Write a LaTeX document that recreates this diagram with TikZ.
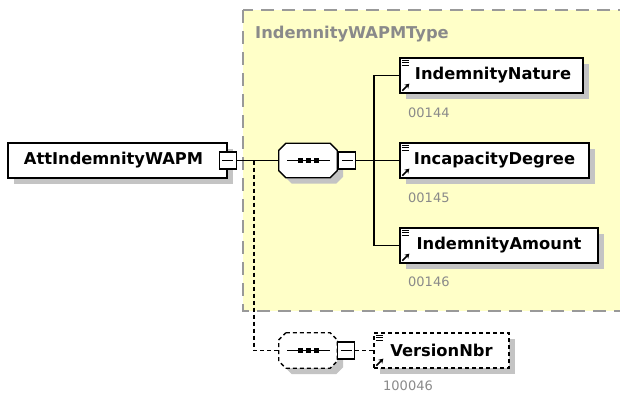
\documentclass[tikz,border=0pt]{standalone}
\usepackage{fontspec}
\setmainfont{DejaVu Sans}
\usetikzlibrary{shadows,arrows.meta}
\definecolor{bgy}{HTML}{FFFFC8}
\definecolor{bord}{HTML}{999999}
\definecolor{shd}{HTML}{C4C4C4}
\definecolor{lbl}{HTML}{8A8A8A}
\tikzset{
  shad/.style={drop shadow={shadow xshift=6pt, shadow yshift=-6pt, fill=shd, opacity=1}},
  elbox/.style={draw=black, line width=1.3pt, fill=white, inner sep=0pt, minimum height=35pt,
    font=\fontsize{16.3}{18}\bfseries, shad},
  optbox/.style={elbox, dash pattern=on 4pt off 3pt},
  anchorbox/.style={draw=none, inner sep=0pt, minimum width=58pt, minimum height=34pt},
  minusbox/.style={draw=black, line width=1.2pt, fill=white, minimum width=17pt, minimum height=17pt, inner sep=0pt},
  conn/.style={line width=1.3pt},
  optconn/.style={line width=1.3pt, dash pattern=on 4pt off 3pt},
  numlbl/.style={font=\fontsize{13}{15}\selectfont, text=lbl, anchor=west, inner sep=0pt},
  ttlstyle/.style={font=\fontsize{16.3}{18}\bfseries, text=lbl, anchor=west, inner sep=0pt},
}
\newcommand\myoct[2]{%
  \path[#2] ([xshift=7pt]#1.north west) -- ([xshift=-7pt]#1.north east) -- ([yshift=-7pt]#1.north east)
    -- ([yshift=7pt]#1.south east) -- ([xshift=-7pt]#1.south east) -- ([xshift=7pt]#1.south west)
    -- ([yshift=7pt]#1.south west) -- ([yshift=-7pt]#1.north west) -- cycle;}
\newcommand\seqdots[1]{%
  \draw[line width=1.3pt] ([xshift=-21pt]#1.center) -- ([xshift=22pt]#1.center);
  \fill ([xshift=-10.5pt,yshift=-2.5pt]#1.center) rectangle ++(5,-5);
  \fill ([xshift=-2.5pt,yshift=-2.5pt]#1.center) rectangle ++(5,-5);
  \fill ([xshift=5.5pt,yshift=-2.5pt]#1.center) rectangle ++(5,-5);}
\newcommand\minusline{}
\renewcommand\minusline[1]{%
  \draw[line width=1.2pt] ([xshift=-5.5pt]#1.center) -- ([xshift=5.5pt]#1.center);}
\newcommand\elic[1]{%
  \draw[line width=1pt] ([xshift=2.5pt,yshift=-3pt]#1.north west) -- ++(7,0);
  \draw[line width=1pt] ([xshift=2.5pt,yshift=-5.5pt]#1.north west) -- ++(7,0);
  \draw[line width=1pt] ([xshift=2.5pt,yshift=-8pt]#1.north west) -- ++(7,0);
  \draw[line width=1.6pt, -{Stealth[length=4.5pt,width=5.5pt]}] ([xshift=3pt,yshift=3pt]#1.south west) -- ++(7,-7);}
\begin{document}
\begin{tikzpicture}[x=1pt,y=-1pt]
\useasboundingbox (0,0) rectangle (620,394);
\clip (0,0) rectangle (620,394);
\fill[white] (0,0) rectangle (620,394);
% type box
\draw[fill=bgy, draw=bord, line width=1.6pt, dash pattern=on 13pt off 8pt] (243,10) rectangle (640,311);
\node[ttlstyle] (ttl) at (255,34) {IndemnityWAPMType};
% main element
\node[elbox, minimum width=219pt] (att) at (117.5,160.5) {AttIndemnityWAPM\hspace*{8pt}};
\node[minusbox] (attm) at (att.east) {};
\minusline{attm}
% sequence
\node[anchorbox] (seq) at (308,160.5) {};
\myoct{seq}{draw=black, fill=white, line width=1.3pt, shad}
\seqdots{seq}
\node[minusbox, anchor=west] (seqm) at ([xshift=1pt]seq.east) {};
\minusline{seqm}
% children
\node[elbox, minimum width=183pt] (e1) at (491.5,75.5) {\hspace*{3pt}IndemnityNature};
\node[elbox, minimum width=189pt] (e2) at (494.5,160.5) {IncapacityDegree};
\node[elbox, minimum width=198pt] (e3) at (499,245.5) {IndemnityAmount};
\elic{e1}\elic{e2}\elic{e3}
\node[numlbl] (l1) at (408,113) {00144};
\node[numlbl] (l2) at (408,197.5) {00145};
\node[numlbl] (l3) at (408,282) {00146};
% optional sequence
\node[anchorbox, minimum height=35pt] (oseq) at (308,350.5) {};
\myoct{oseq}{draw=black, fill=white, line width=1.3pt, dash pattern=on 4pt off 3pt, shad}
\seqdots{oseq}
\node[minusbox, anchor=west] (oseqm) at (oseq.east) {};
\minusline{oseqm}
\node[optbox, minimum width=135pt] (ver) at (441.5,350.5) {VersionNbr};
\elic{ver}
\node[numlbl] (l4) at (383,385.5) {100046};
% connectors
\draw[conn] (attm.east) -- (seq.west);
\draw[conn] (seqm.east) -- (e2.west);
\coordinate (bus) at (374,160.5);
\draw[conn] (e1.west) -| (bus) |- (e3.west);
\coordinate (br) at (254,160.5);
\draw[optconn] (br) |- (oseq.west);
\draw[optconn] (oseqm.east) -- (ver.west);
\end{tikzpicture}
\end{document}
